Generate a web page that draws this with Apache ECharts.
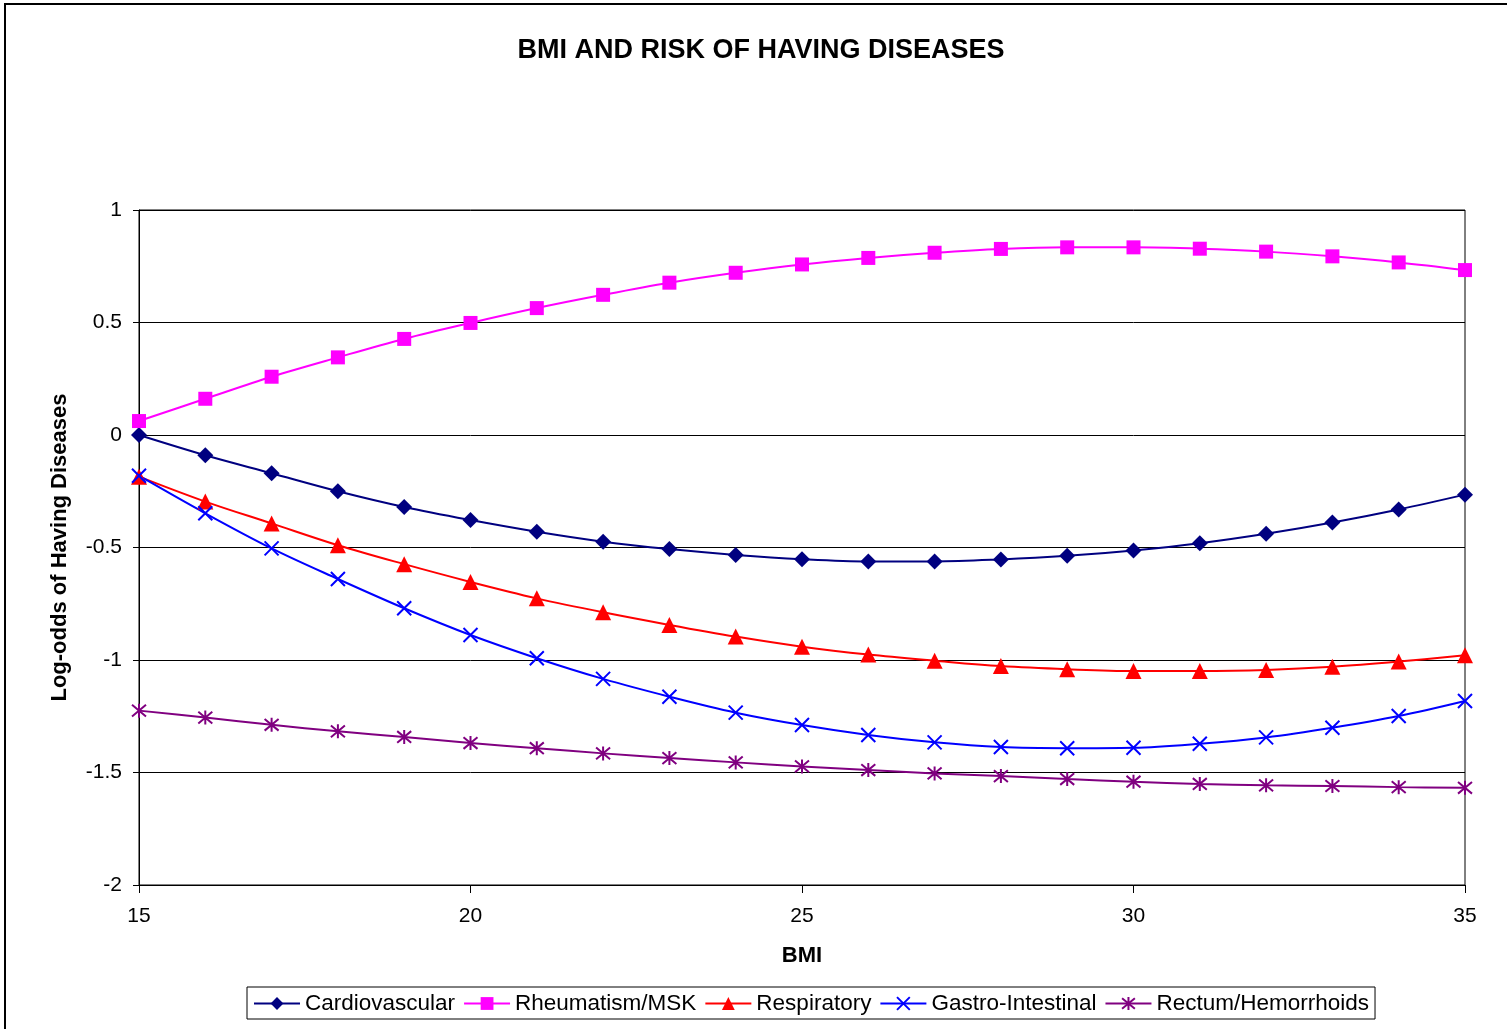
<!DOCTYPE html>
<html>
<head>
<meta charset="utf-8">
<script src="https://cdn.jsdelivr.net/npm/echarts@6/dist/echarts.min.js"></script>
<style>
  html, body { margin: 0; padding: 0; background: #fff; }
  #chart { width: 1507px; height: 1029px; }
</style>
</head>
<body>
<div id="chart"></div>
<script>
// BMI values on the horizontal axis
const bmi = [15, 16, 17, 18, 19, 20, 21, 22, 23, 24, 25, 26, 27, 28, 29, 30, 31, 32, 33, 34, 35];

// Log-odds for each disease group
const cardiovascular = [0, -0.09, -0.17, -0.25, -0.32, -0.378, -0.43, -0.474, -0.507, -0.533, -0.552, -0.562, -0.562, -0.553, -0.537, -0.513, -0.481, -0.439, -0.389, -0.331, -0.265];
const rheumatism = [0.062, 0.161, 0.259, 0.345, 0.427, 0.498, 0.564, 0.623, 0.677, 0.721, 0.758, 0.787, 0.81, 0.827, 0.834, 0.834, 0.828, 0.815, 0.794, 0.767, 0.733];
const respiratory = [-0.185, -0.296, -0.393, -0.49, -0.574, -0.653, -0.726, -0.788, -0.844, -0.896, -0.941, -0.976, -1.003, -1.027, -1.041, -1.049, -1.049, -1.044, -1.03, -1.007, -0.979];
const gastro = [-0.181, -0.348, -0.504, -0.64, -0.77, -0.889, -0.992, -1.084, -1.163, -1.234, -1.289, -1.333, -1.366, -1.387, -1.392, -1.39, -1.372, -1.344, -1.301, -1.249, -1.182];
const rectum = [-1.225, -1.256, -1.288, -1.317, -1.342, -1.369, -1.392, -1.415, -1.436, -1.455, -1.473, -1.489, -1.504, -1.516, -1.529, -1.541, -1.551, -1.557, -1.56, -1.565, -1.568];

const seriesNames = ['Cardiovascular', 'Rheumatism/MSK', 'Respiratory', 'Gastro-Intestinal', 'Rectum/Hemorrhoids'];

const FONT = '"Liberation Sans", Arial, sans-serif';

function pairs(values) {
  return bmi.map((x, i) => [x, values[i]]);
}

// Stroke-only marker shapes
const crossSymbol = 'path://M0,0L10,10M10,0L0,10';
const starSymbol = 'path://M0,0L10,10M10,0L0,10M5,-1L5,11';

function lineSeries(name, values, color, symbol, size, strokeMarker) {
  return {
    name: name,
    type: 'line',
    data: pairs(values),
    smooth: 0.35,
    symbol: symbol,
    symbolSize: size,
    showAllSymbol: true,
    lineStyle: { color: color, width: 2 },
    itemStyle: strokeMarker
      ? { color: color, borderColor: color, borderWidth: 2 }
      : { color: color, borderWidth: 0 },
    emphasis: { disabled: true },
    animation: false
  };
}

const chart = echarts.init(document.getElementById('chart'), null, { renderer: 'canvas' });

chart.setOption({
  backgroundColor: '#ffffff',
  animation: false,
  title: {
    text: 'BMI AND RISK OF HAVING DISEASES',
    left: 756,
    textAlign: 'center',
    top: 32,
    textStyle: { fontFamily: FONT, fontWeight: 'bold', fontSize: 27, color: '#000' }
  },
  graphic: [{
    type: 'rect',
    shape: { x: 5, y: 4, width: 1520, height: 1050 },
    style: { fill: 'none', stroke: '#000', lineWidth: 2 },
    silent: true
  }],
  grid: {
    left: 139, right: 42, top: 210, bottom: 144,
    show: true, borderColor: '#000', borderWidth: 1, backgroundColor: 'transparent'
  },
  legend: {
    data: seriesNames,
    left: 247,
    top: 987,
    orient: 'horizontal',
    borderColor: '#000',
    borderWidth: 1,
    padding: [5, 6, 4, 6],
    itemWidth: 46,
    itemHeight: 16,
    itemGap: 8,
    textStyle: { fontFamily: FONT, fontSize: 22.5, color: '#000' }
  },
  xAxis: {
    type: 'value',
    min: 15, max: 35, interval: 5,
    name: 'BMI',
    nameLocation: 'middle',
    nameGap: 60,
    nameTextStyle: { fontFamily: FONT, fontWeight: 'bold', fontSize: 22, color: '#000' },
    axisLine: { show: true, onZero: false, lineStyle: { color: '#000', width: 1 } },
    axisTick: { show: true, inside: false, length: 8, lineStyle: { color: '#000' } },
    axisLabel: { fontFamily: FONT, fontSize: 21, color: '#000', margin: 21 },
    splitLine: { show: false }
  },
  yAxis: {
    type: 'value',
    min: -2, max: 1, interval: 0.5,
    name: 'Log-odds of Having Diseases',
    nameLocation: 'middle',
    nameGap: 68,
    nameTextStyle: { fontFamily: FONT, fontWeight: 'bold', fontSize: 22, color: '#000' },
    axisLine: { show: true, onZero: false, lineStyle: { color: '#000', width: 1 } },
    axisTick: { show: true, inside: false, length: 6, lineStyle: { color: '#000' } },
    axisLabel: { fontFamily: FONT, fontSize: 21, color: '#000', margin: 17 },
    splitLine: { show: true, lineStyle: { color: '#000', width: 1 } }
  },
  series: [
    lineSeries(seriesNames[0], cardiovascular, '#000080', 'diamond', 16, false),
    lineSeries(seriesNames[1], rheumatism, '#FF00FF', 'rect', 14, false),
    lineSeries(seriesNames[2], respiratory, '#FF0000', 'triangle', 16, false),
    lineSeries(seriesNames[3], gastro, '#0000FF', crossSymbol, 14, true),
    lineSeries(seriesNames[4], rectum, '#800080', starSymbol, 14, true)
  ]
});
</script>
</body>
</html>
